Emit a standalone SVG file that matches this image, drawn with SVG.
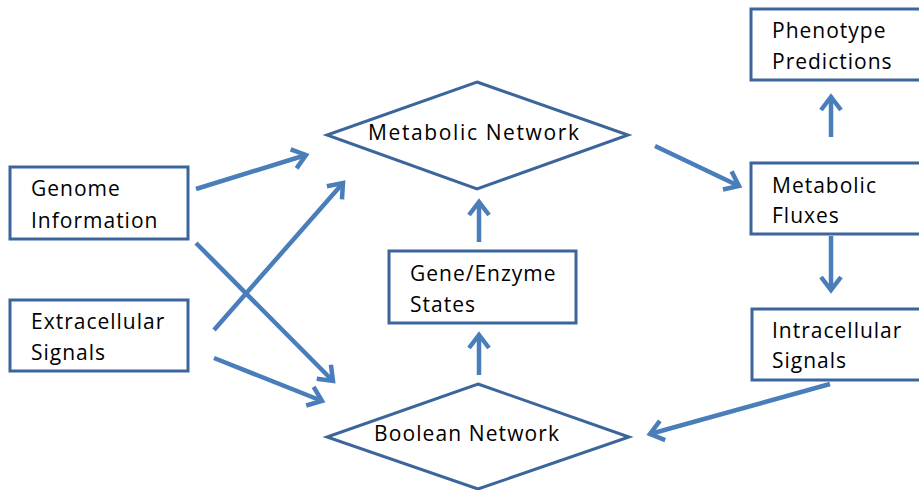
<svg xmlns="http://www.w3.org/2000/svg" width="919" height="490" viewBox="0 0 919 490">
  <style>
    .box { fill: #ffffff; stroke: #3b659b; stroke-width: 3; }
    .dia { fill: #ffffff; stroke: #3b659b; stroke-width: 3; stroke-linejoin: miter; }
    .lbl { font-family: "Open Sans", "Noto Sans", "Liberation Sans", sans-serif; font-size: 21px; fill: #000000; letter-spacing: 1px; }
    .arr { fill: none; stroke: #4a7ebb; stroke-width: 4.5; marker-end: url(#head); }
  </style>
  <defs>
    <marker id="head" markerUnits="userSpaceOnUse" markerWidth="30" markerHeight="30" refX="0" refY="0" viewBox="-20 -15 30 30" orient="auto" overflow="visible">
      <path d="M-13,-10 L0,0 L-13,10" fill="none" stroke="#4a7ebb" stroke-width="4.5" stroke-linejoin="miter" stroke-linecap="butt"/>
    </marker>
  </defs>
  <rect width="919" height="490" fill="#ffffff"/>

  <!-- connectors -->
  <g id="connectors">
    <line class="arr" x1="196" y1="189" x2="306" y2="155"/>
    <line class="arr" x1="196" y1="243" x2="333" y2="381"/>
    <line class="arr" x1="214" y1="330" x2="343" y2="183"/>
    <line class="arr" x1="214" y1="358" x2="322" y2="401"/>
    <line class="arr" x1="479" y1="242" x2="479" y2="202"/>
    <line class="arr" x1="479" y1="375" x2="479" y2="335"/>
    <line class="arr" x1="655" y1="146" x2="739" y2="186"/>
    <line class="arr" x1="831" y1="137" x2="831" y2="97"/>
    <line class="arr" x1="831" y1="236" x2="831" y2="290"/>
    <line class="arr" x1="830" y1="384" x2="650" y2="434"/>
  </g>

  <g id="genome">
    <rect class="box" x="10" y="167" width="178" height="72"/>
    <text class="lbl" x="31" y="196">Genome</text>
    <text class="lbl" x="31" y="228">Information</text>
  </g>

  <g id="extracellular">
    <rect class="box" x="10" y="300" width="178" height="71"/>
    <text class="lbl" x="31" y="329">Extracellular</text>
    <text class="lbl" x="31" y="360">Signals</text>
  </g>

  <g id="metabolic-network">
    <polygon class="dia" points="477,82 628,135 477,189 327,135"/>
    <text class="lbl" x="368" y="140" textLength="212" lengthAdjust="spacing">Metabolic Network</text>
  </g>

  <g id="gene-enzyme">
    <rect class="box" x="389" y="251" width="187" height="72"/>
    <text class="lbl" x="410" y="281">Gene/Enzyme</text>
    <text class="lbl" x="410" y="312">States</text>
  </g>

  <g id="boolean-network">
    <polygon class="dia" points="478,384 629,437 478,489 327,437"/>
    <text class="lbl" x="374" y="441" textLength="186" lengthAdjust="spacing">Boolean Network</text>
  </g>

  <g id="phenotype">
    <rect class="box" x="751" y="9" width="180" height="71"/>
    <text class="lbl" x="772" y="38">Phenotype</text>
    <text class="lbl" x="772" y="69">Predictions</text>
  </g>

  <g id="metabolic-fluxes">
    <rect class="box" x="751" y="163" width="180" height="71"/>
    <text class="lbl" x="772" y="193">Metabolic</text>
    <text class="lbl" x="772" y="223">Fluxes</text>
  </g>

  <g id="intracellular">
    <rect class="box" x="752" y="309" width="180" height="71"/>
    <text class="lbl" x="772" y="338">Intracellular</text>
    <text class="lbl" x="772" y="368">Signals</text>
  </g>
</svg>
